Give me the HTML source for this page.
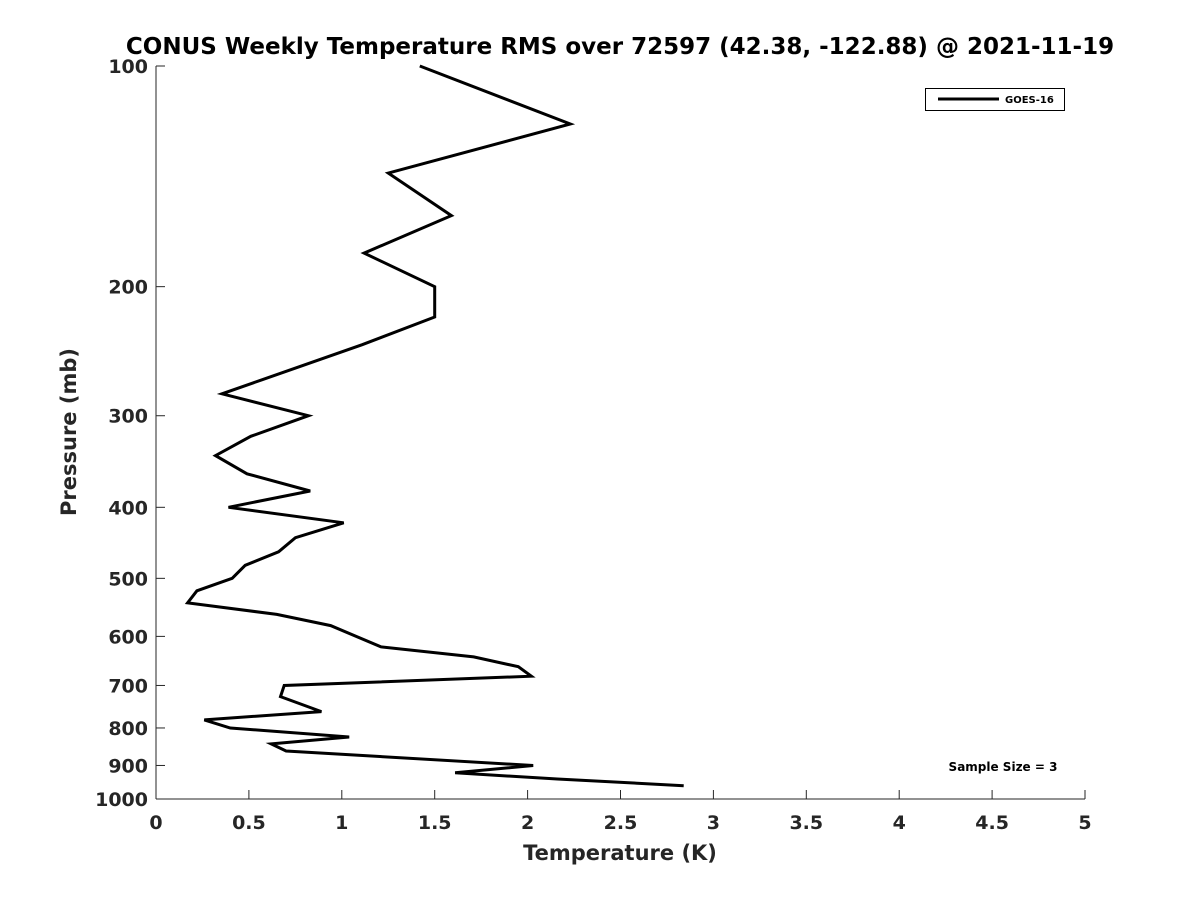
<!DOCTYPE html>
<html><head><meta charset="utf-8"><style>
body{margin:0;background:#fff;font-family:"Liberation Sans","DejaVu Sans",sans-serif;}
svg text{font-family:"DejaVu Sans","Liberation Sans",sans-serif;font-weight:bold;fill:#262626;}
</style></head><body>
<svg id="chart" width="1200" height="900" xmlns="http://www.w3.org/2000/svg">
<rect width="1200" height="900" fill="#fff"/>
<text x="620" y="54" font-size="23" text-anchor="middle" style="fill:#000">CONUS Weekly Temperature RMS over 72597 (42.38, -122.88) @ 2021-11-19</text>
<g id="axes"></g>
<path id="series" fill="none" stroke="#000" stroke-width="3" stroke-linejoin="miter"/>
<g>
<rect x="925.5" y="88.5" width="139" height="22" fill="#fff" stroke="#000" stroke-width="1"/>
<line x1="938" y1="99" x2="999" y2="99" stroke="#000" stroke-width="3"/>
<text x="1005" y="103" font-size="10" style="fill:#000">GOES-16</text>
</g>
<text x="1003" y="771" font-size="12" text-anchor="middle" style="fill:#000">Sample Size = 3</text>
<text x="620" y="860" font-size="21" text-anchor="middle">Temperature (K)</text>
<text x="76" y="432" font-size="21" text-anchor="middle" transform="rotate(-90 76 432)">Pressure (mb)</text>
</svg>
<script>
const pressures=[100,120,140,160,180,200,220,240,280,300,320,340,360,380,400,420,440,460,480,500,520,540,560,580,620,640,660,680,700,725,760,780,800,823,841,860,900,921,939,959];
const rmsValues=[1.42,2.23,1.25,1.59,1.12,1.50,1.50,1.11,0.355,0.82,0.51,0.32,0.49,0.83,0.39,1.01,0.75,0.66,0.48,0.41,0.22,0.17,0.65,0.94,1.21,1.71,1.95,2.02,0.69,0.67,0.89,0.26,0.40,1.04,0.62,0.70,2.03,1.61,2.16,2.84];
const xTicks=[0,0.5,1,1.5,2,2.5,3,3.5,4,4.5,5];
const yTicks=[100,200,300,400,500,600,700,800,900,1000];
const X0=156,X1=1085,Y0=66,Y1=799;
function xs(v){return X0+(v-0)/(5-0)*(X1-X0);}
function ys(p){return Y0+(Math.log10(p)-2)/(1)*(Y1-Y0);}
const ns="http://www.w3.org/2000/svg";
const ax=document.getElementById('axes');
function mk(t,a,p){const e=document.createElementNS(ns,t);for(const k in a)e.setAttribute(k,a[k]);p.appendChild(e);return e;}
const yl=mk('line',{x1:X0,y1:Y0,x2:X0,y2:Y1,stroke:'#262626','stroke-width':1},ax);


const xl=mk('line',{x1:X0,y1:Y1,x2:X1,y2:Y1,stroke:'#262626','stroke-width':1},ax);


xTicks.forEach(v=>{const x=xs(v);
mk('line',{x1:x,y1:Y1,x2:x,y2:Y1-9,stroke:'#262626'},ax);
const t=mk('text',{x:x,y:Y1+30,'font-size':19,'text-anchor':'middle'},ax);t.textContent=v;

});
yTicks.forEach(v=>{const y=ys(v);
mk('line',{x1:X0,y1:y,x2:X0+9,y2:y,stroke:'#262626'},ax);
const t=mk('text',{x:X0-8,y:y+7,'font-size':19,'text-anchor':'end'},ax);t.textContent=v;

});
document.getElementById('series').setAttribute('d',pressures.map((p,i)=>(i?'L':'M')+xs(rmsValues[i]).toFixed(1)+','+ys(p).toFixed(1)).join(''));
</script>
</body></html>
